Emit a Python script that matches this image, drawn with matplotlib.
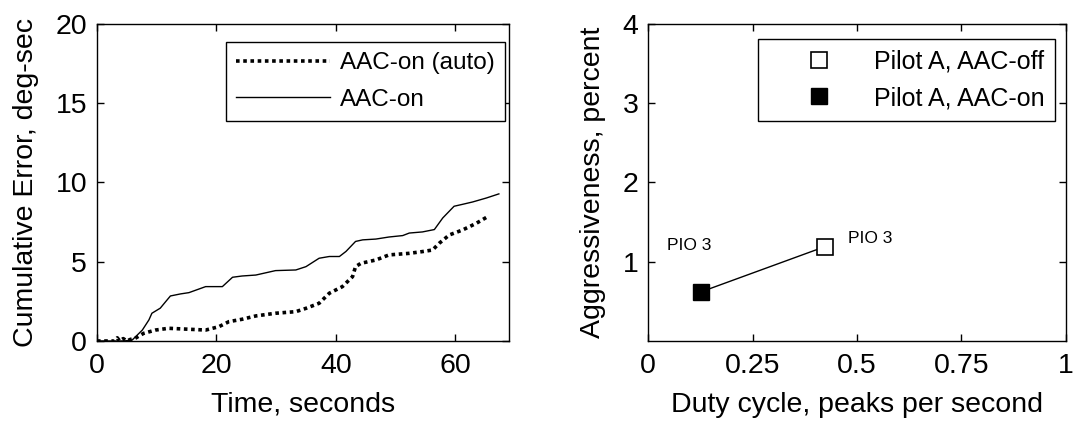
import numpy as np
import matplotlib
matplotlib.use("Agg")
import matplotlib.pyplot as plt

plt.rcParams['font.family'] = ['Liberation Sans', 'DejaVu Sans']

# cumulative error traces (time in s, error in deg-sec)
t_auto = [0, 3.0, 3.4, 3.8, 4.4, 5.0, 5.6, 6.4, 7.8, 9.8, 12.0, 15.4, 18.2, 20.4, 22.1,
          24.3, 26.6, 29.9, 33.3, 35.0, 37.2, 38.9, 41.1, 42.8, 43.3, 44.2, 46.7,
          48.9, 52.3, 54.5, 56.2, 57.3, 59.0, 61.2, 63.5, 65.4]
err_auto = [0, 0, 0.2, 0, 0.15, 0, 0.1, 0.17, 0.48, 0.69, 0.80, 0.74, 0.69, 0.90, 1.22,
            1.37, 1.58, 1.75, 1.85, 2.06, 2.38, 3.01, 3.43, 4.06, 4.69, 4.90, 5.11,
            5.43, 5.53, 5.64, 5.74, 6.16, 6.69, 7.00, 7.42, 7.84]

t_on = [0, 4.5, 5.9, 7.6, 8.7, 9.2, 10.6, 11.5, 12.3, 14.0, 15.4, 18.2, 21.0, 22.7,
        24.3, 26.6, 29.9, 33.3, 35.0, 37.2, 38.9, 40.6, 41.7, 43.3, 44.5, 46.7,
        48.9, 51.2, 52.3, 54.5, 56.5, 57.9, 59.8, 61.2, 62.9, 65.2, 67.3]
err_on = [0, 0, 0.06, 0.69, 1.33, 1.75, 2.07, 2.48, 2.84, 2.97, 3.05, 3.43, 3.43, 4.02,
          4.10, 4.16, 4.44, 4.48, 4.69, 5.22, 5.33, 5.33, 5.65, 6.28, 6.38, 6.43,
          6.56, 6.65, 6.81, 6.88, 7.03, 7.76, 8.50, 8.62, 8.77, 9.02, 9.28]

# duty cycle vs aggressiveness
duty_off, aggr_off = 0.423, 1.19
duty_on, aggr_on = 0.127, 0.62
pio_label = "PIO 3"

fig = plt.figure(figsize=(10.75, 4.23), dpi=100)
ax1 = fig.add_axes([0.0902, 0.1939, 0.3833, 0.7494])
ax2 = fig.add_axes([0.6028, 0.1939, 0.3888, 0.7494])

fs = 20.5
for ax in (ax1, ax2):
    ax.tick_params(direction='in', top=True, right=True, length=5, width=1,
                   labelsize=fs, pad=7)
    ax.tick_params(axis='x', pad=9)
    for s in ax.spines.values():
        s.set_linewidth(1)

ax1.plot(t_auto, err_auto, color='k', lw=2.6, linestyle=(0, (1, 1)),
         label='AAC-on (auto)')
ax1.plot(t_on, err_on, color='k', lw=1.0, label='AAC-on')
ax1.set_xlim(0, 69)
ax1.set_ylim(0, 20)
ax1.set_xticks([0, 20, 40, 60])
ax1.set_yticks([0, 5, 10, 15, 20])
ax1.set_xlabel('Time, seconds', fontsize=fs, labelpad=9)
ax1.set_ylabel('Cumulative Error, deg-sec', fontsize=fs, labelpad=12)
leg1 = ax1.legend(loc='upper right', bbox_to_anchor=(0.99, 0.943), borderaxespad=0,
                  fontsize=17.5, handlelength=3.85, handletextpad=0.41,
                  fancybox=False, edgecolor='k', framealpha=1, borderpad=0.42,
                  labelspacing=0.6)
leg1.get_frame().set_linewidth(1)

ax2.plot([duty_on, duty_off], [aggr_on, aggr_off], color='k', lw=1.0, zorder=1)
ax2.plot([duty_off], [aggr_off], 's', ms=11, mfc='white', mec='k', mew=1.2,
         linestyle='none', label='Pilot A, AAC-off', zorder=2)
ax2.plot([duty_on], [aggr_on], 's', ms=12, mfc='k', mec='k',
         linestyle='none', label='Pilot A, AAC-on', zorder=2)
ax2.text(0.046, 1.21, pio_label, fontsize=12.5, va='center', ha='left')
ax2.text(0.478, 1.29, pio_label, fontsize=12.5, va='center', ha='left')
ax2.set_xlim(0, 1)
ax2.set_ylim(0, 4)
ax2.set_xticks([0, 0.25, 0.5, 0.75, 1])
ax2.set_xticklabels(['0', '0.25', '0.5', '0.75', '1'])
ax2.set_yticks([1, 2, 3, 4])
ax2.set_xlabel('Duty cycle, peaks per second', fontsize=fs, labelpad=9)
ax2.set_ylabel('Aggressiveness, percent', fontsize=fs, labelpad=12)
leg2 = ax2.legend(loc='upper right', bbox_to_anchor=(0.974, 0.953), borderaxespad=0,
                  fontsize=18, handlelength=4.0, handletextpad=0.2,
                  fancybox=False, edgecolor='k', framealpha=1, borderpad=0.42,
                  labelspacing=0.51)
leg2.get_frame().set_linewidth(1)

fig.savefig('out.png', dpi=100)
